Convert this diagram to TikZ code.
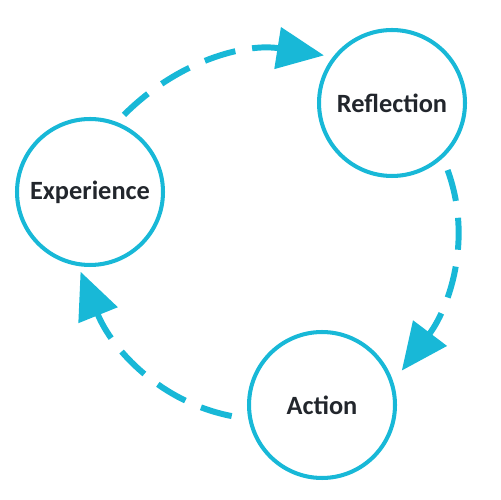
\documentclass[tikz,border=0pt]{standalone}
\usepackage{fontspec}
\setmainfont{Carlito}
\usetikzlibrary{arrows.meta}
\definecolor{cy}{RGB}{24,184,215}
\definecolor{tx}{RGB}{34,38,44}
\tikzset{
    c1/.style={draw=cy, circle, line width=2.3pt, minimum size=2.92cm, inner sep=0pt, text=tx, font=\fontsize{15}{18}\selectfont\bfseries},
    a1/.style={draw=cy, dash pattern=on 0.64cm off 0.34cm, -{Triangle[length=0.94cm, width=0.82cm]}, line width=3.4pt}
}

\begin{document}
\begin{tikzpicture}[x=0.02cm, y=0.02cm]
\useasboundingbox (0,0) rectangle (500,500);

% Stages (one unit = one pixel, y counted from the bottom)
\node[c1] (N1) at (90, 308) {Experience};
\node[c1] (N2) at (392, 397) {Reflection};
\node[c1] (N3) at (322, 95) {Action};

% Experience -> Reflection
\draw[a1, shorten <=0.2cm, shorten >=0.18cm] (N1.69) to[out=45, in=171] (N2.142);

% Reflection -> Action
\draw[a1, shorten <=0.26cm, shorten >=0.28cm] (N2.-47) to[out=-70, in=53] (N3.18);

% Action -> Experience
\draw[a1, shorten <=0.34cm, shorten >=0.12cm] (N3.191) to[out=169, in=-68] (N1.261);

\end{tikzpicture}
\end{document}
